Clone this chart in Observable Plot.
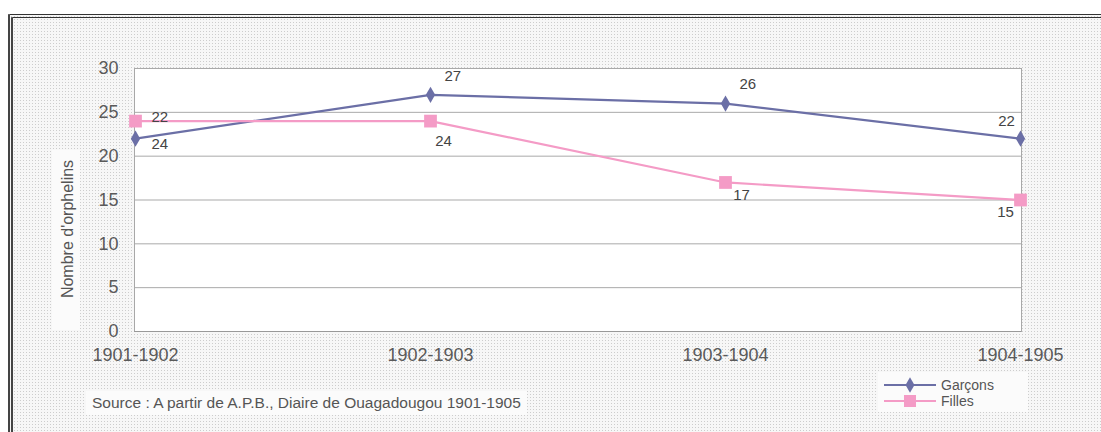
<!DOCTYPE html>
<html>
<head>
<meta charset="utf-8">
<script src="https://cdn.jsdelivr.net/npm/d3@7"></script>
<script src="https://cdn.jsdelivr.net/npm/@observablehq/plot@0.6"></script>
<style>
  html, body { margin: 0; padding: 0; background: #fff; }
  #wrap { position: relative; width: 1101px; height: 432px; overflow: hidden; font-family: "Liberation Sans", Arial, sans-serif; }
  #frame { position: absolute; left: 8px; top: 14px; width: 1110px; height: 440px;
    border-top: 4px double #333; border-left: 5px double #444; box-sizing: border-box;
    background-color: #f7f7f7;
    background-image: radial-gradient(#cdcdcd 0.7px, transparent 0.9px);
    background-size: 3px 3px; }
  #ytitle-bg { position: absolute; left: 52px; top: 150px; width: 28px; height: 180px; background: #fbfbfb; }
  #ytitle { position: absolute; left: 68px; top: 229px; transform: translate(-50%, -50%) rotate(-90deg);
    font-size: 16px; color: #555; white-space: nowrap; }
  #chart { position: absolute; left: 0; top: 0; }
  #caption { position: absolute; left: 86px; top: 391px; padding: 3px 6px; background: #fbfbfb;
    font-size: 15.5px; color: #555; white-space: nowrap; }
  #legend { position: absolute; left: 878px; top: 372px; width: 150px; height: 40px; background: #fbfbfb; }
</style>
</head>
<body>
<div id="wrap">
  <div id="frame"></div>
  <div id="ytitle-bg"></div>
  <div id="ytitle">Nombre d'orphelins</div>
  <div id="chart"></div>
  <div id="caption">Source : A partir de A.P.B., Diaire de Ouagadougou 1901-1905</div>
  <div id="legend"></div>
</div>
<script>
// ---- data ----
const periods = ["1901-1902", "1902-1903", "1903-1904", "1904-1905"];
const garcons = [22, 27, 26, 22];
const filles = [24, 24, 17, 15];
const garconsLabels = ["24", "27", "26", "22"];
const fillesLabels = ["22", "24", "17", "15"];
const yTicks = [0, 5, 10, 15, 20, 25, 30];
const seriesNames = ["Garçons", "Filles"];
const seriesColors = ["#6b6fa6", "#f49bc6"];

const gRows = periods.map((p, i) => ({period: p, value: garcons[i], label: garconsLabels[i], i}));
const fRows = periods.map((p, i) => ({period: p, value: filles[i], label: fillesLabels[i], i}));

const textStyle = {x: "period", y: "value", text: "label", fontSize: 15, fill: "#444"};

const chart = Plot.plot({
  width: 1101,
  height: 432,
  marginLeft: 134,
  marginRight: 80,
  marginTop: 68,
  marginBottom: 101,
  style: {background: "transparent", fontFamily: "'Liberation Sans', Arial, sans-serif", overflow: "visible"},
  x: {type: "point", domain: periods, padding: 0},
  y: {domain: [0, 30]},
  marks: [
    Plot.frame({fill: "white", stroke: "#a8a8a8"}),
    Plot.ruleY(yTicks.filter(t => t > 0), {stroke: "#a9a9a9", strokeWidth: 1}),
    Plot.ruleY([0], {stroke: "#999", strokeWidth: 1.2}),
    Plot.axisY({ticks: yTicks, tickSize: 0, tickPadding: 16, fontSize: 18, color: "#5a5a5a", label: null}),
    Plot.axisX({tickSize: 0, tickPadding: 17, fontSize: 18, color: "#5a5a5a", label: null}),
    Plot.line(gRows, {x: "period", y: "value", stroke: seriesColors[0], strokeWidth: 2.2}),
    Plot.line(fRows, {x: "period", y: "value", stroke: seriesColors[1], strokeWidth: 2.2}),
    Plot.dot(gRows, {x: "period", y: "value", symbol: "diamond", r: 4.9, fill: seriesColors[0], stroke: "none"}),
    Plot.dot(fRows, {x: "period", y: "value", symbol: "square", r: 7.2, fill: seriesColors[1], stroke: "none"}),
    // Garçons labels
    Plot.text(gRows.filter(d => d.i === 0), {...textStyle, textAnchor: "start", dx: 16, dy: 6}),
    Plot.text(gRows.filter(d => d.i === 1 || d.i === 2), {...textStyle, textAnchor: "start", dx: 14, dy: -19}),
    Plot.text(gRows.filter(d => d.i === 3), {...textStyle, textAnchor: "middle", dx: -14, dy: -17}),
    // Filles labels
    Plot.text(fRows.filter(d => d.i === 0), {...textStyle, textAnchor: "start", dx: 16, dy: -4}),
    Plot.text(fRows.filter(d => d.i === 1), {...textStyle, textAnchor: "middle", dx: 13, dy: 20}),
    Plot.text(fRows.filter(d => d.i === 2), {...textStyle, textAnchor: "middle", dx: 16, dy: 13}),
    Plot.text(fRows.filter(d => d.i === 3), {...textStyle, textAnchor: "middle", dx: -15, dy: 12})
  ]
});
document.getElementById("chart").appendChild(chart);

// ---- legend ----
const leg = d3.select("#legend").append("svg").attr("width", 150).attr("height", 40);
seriesNames.forEach((name, k) => {
  const y = 13 + k * 16;
  const g = leg.append("g");
  g.append("line").attr("x1", 6).attr("x2", 58).attr("y1", y).attr("y2", y)
    .attr("stroke", seriesColors[k]).attr("stroke-width", 2);
  if (k === 0) {
    g.append("path").attr("d", d3.symbol(d3.symbolDiamond, 70)()).attr("transform", `translate(32,${y})`).attr("fill", seriesColors[k]);
  } else {
    g.append("rect").attr("x", 26).attr("y", y - 6).attr("width", 12).attr("height", 12).attr("fill", seriesColors[k]);
  }
  g.append("text").attr("x", 63).attr("y", y).attr("dy", "0.35em")
    .attr("font-size", 14).attr("fill", "#555").attr("font-family", "'Liberation Sans', Arial, sans-serif").text(name);
});
</script>
</body>
</html>
